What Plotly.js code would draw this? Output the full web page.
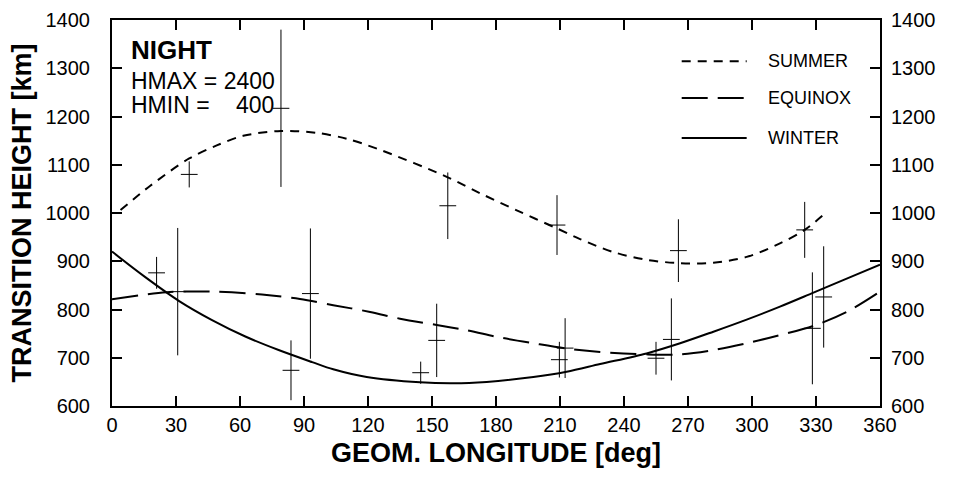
<!DOCTYPE html>
<html>
<head>
<meta charset="utf-8">
<script src="https://cdn.plot.ly/plotly-3.0.1.min.js"></script>
<style>
  html, body { margin: 0; padding: 0; background: #ffffff; }
  #chart { width: 953px; height: 477px; }
</style>
</head>
<body>
<div id="chart"></div>
<script>
// Observed data points (geomagnetic longitude, transition height, error)
const pointLon = [20.9, 30.8, 36.2, 79.2, 83.9, 93.0, 144.7, 152.2, 157.4, 208.6, 209.7, 212.4, 255.0, 262.2, 265.5, 324.7, 328.3, 333.6];
const pointH   = [876, 837, 1080, 1217, 674, 833, 669, 736, 1015, 975, 696, 720, 699, 738, 922, 965, 761, 826];
const pointErr = [33, 132, 27, 163, 62, 135, 23, 76, 69, 62, 37, 62, 34, 85, 65, 58, 116, 105];

// Fitted curves
const summerLon = [4, 17.8, 36.2, 49.1, 61.5, 79.2, 96, 110, 125.6, 157.4, 172.5, 190, 208.6, 219.4, 235, 250.6, 266.3, 281.9, 297.5, 313.1, 324.7, 335];
const summerH   = [1006, 1056, 1113, 1140, 1160, 1170, 1166, 1154, 1131, 1074, 1041, 1005, 968, 946, 919, 903, 896, 897, 909, 937, 965, 1002];

const equinoxLon = [0, 25.6, 47, 70.3, 88.1, 103.7, 121, 135, 152.2, 166.3, 181.9, 197.5, 213.1, 228.8, 250.6, 266.3, 281.9, 297.5, 313.1, 328.8, 344.4, 360];
const equinoxH   = [821, 836, 837, 831, 822, 809, 795, 781, 768, 757, 742, 730, 719, 712, 707, 707, 716, 730, 747, 766, 795, 837];

const winterLon = [0, 15.6, 31.3, 46.9, 62.5, 78.1, 93.8, 103.7, 119.4, 144.4, 160, 175.6, 197.5, 213.1, 228.8, 250.6, 266.3, 281.9, 297.5, 313.1, 328.8, 344.4, 360];
const winterH   = [920, 867, 818, 778, 744, 716, 691, 676, 660, 649, 647, 650, 660, 671, 687, 709, 730, 754, 779, 806, 835, 864, 893];

const xTicks = [0, 30, 60, 90, 120, 150, 180, 210, 240, 270, 300, 330, 360];
const yTicks = [600, 700, 800, 900, 1000, 1100, 1200, 1300, 1400];
const legendNames = ["SUMMER", "EQUINOX", "WINTER"];

const FONT = "Liberation Sans, Arial, sans-serif";
const DASH_SUMMER = "9px,7px";
const DASH_EQUINOX = "26px,10px";

const traces = [
  { x: summerLon, y: summerH, mode: "lines", name: legendNames[0],
    line: { color: "#000", width: 2, dash: DASH_SUMMER, shape: "spline", smoothing: 0.9 }, hoverinfo: "skip" },
  { x: equinoxLon, y: equinoxH, mode: "lines", name: legendNames[1],
    line: { color: "#000", width: 2, dash: DASH_EQUINOX, shape: "spline", smoothing: 0.9 }, hoverinfo: "skip" },
  { x: winterLon, y: winterH, mode: "lines", name: legendNames[2],
    line: { color: "#000", width: 2, shape: "spline", smoothing: 0.9 }, hoverinfo: "skip" },
  { x: pointLon, y: pointH, mode: "markers", name: "data",
    marker: { symbol: "line-ew", size: 12, color: "#000", line: { color: "#000", width: 1 } },
    error_y: { type: "data", array: pointErr, visible: true, color: "#000", thickness: 1, width: 0 } },
  { x: [null], y: [null], yaxis: "y2", mode: "markers", showlegend: false, hoverinfo: "skip" }
];

const legendY = [0.893, 0.798, 0.694];
const legendDash = [DASH_SUMMER, DASH_EQUINOX, "solid"];
const shapes = legendNames.map((n, i) => ({
  type: "line", xref: "paper", yref: "paper",
  x0: 0.7418, x1: 0.8264, y0: legendY[i], y1: legendY[i],
  line: { color: "#000", width: 2, dash: legendDash[i] }
}));

const annotations = legendNames.map((n, i) => ({
  text: n, xref: "paper", yref: "paper", x: 0.852, y: legendY[i],
  xanchor: "left", yanchor: "middle", showarrow: false,
  font: { family: FONT, size: 18, color: "#000" }
}));
annotations.push(
  { text: "NIGHT", xref: "paper", yref: "paper", x: 0.022, y: 0.923, xanchor: "left", yanchor: "middle",
    showarrow: false, font: { family: FONT, size: 26, color: "#000", weight: "bold" } },
  { text: "HMAX = 2400", xref: "paper", yref: "paper", x: 0.022, y: 0.841, xanchor: "left", yanchor: "middle",
    showarrow: false, font: { family: FONT, size: 23, color: "#000" } },
  { text: "HMIN =", xref: "paper", yref: "paper", x: 0.022, y: 0.781, xanchor: "left", yanchor: "middle",
    showarrow: false, font: { family: FONT, size: 23, color: "#000" } },
  { text: "400", xref: "paper", yref: "paper", x: 0.2135, y: 0.781, xanchor: "right", yanchor: "middle",
    showarrow: false, font: { family: FONT, size: 23, color: "#000" } }
);

const layout = {
  width: 953, height: 477,
  margin: { l: 112, r: 73, t: 20, b: 71 },
  paper_bgcolor: "#fff", plot_bgcolor: "#fff",
  showlegend: false,
  font: { family: FONT, color: "#000" },
  xaxis: {
    range: [0, 360], tickvals: xTicks, ticktext: xTicks.map(String),
    ticks: "inside", ticklen: 10, tickwidth: 2, tickcolor: "#000",
    showline: true, linewidth: 2, linecolor: "#000", mirror: "ticks",
    showgrid: false, zeroline: false,
    tickfont: { family: FONT, size: 20, color: "#000" },
    ticklabelstandoff: 0,
    title: { text: "GEOM. LONGITUDE [deg]", standoff: 8,
             font: { family: FONT, size: 27, color: "#000", weight: "bold" } }
  },
  yaxis: {
    range: [600, 1400], tickvals: yTicks, ticktext: yTicks.map(String),
    ticks: "inside", ticklen: 10, tickwidth: 2, tickcolor: "#000",
    showline: true, linewidth: 2, linecolor: "#000", mirror: "ticks",
    showgrid: false, zeroline: false,
    tickfont: { family: FONT, size: 20, color: "#000" },
    ticklabelstandoff: 16,
    title: { text: "TRANSITION HEIGHT [km]", standoff: 6,
             font: { family: FONT, size: 27, color: "#000", weight: "bold" } }
  },
  yaxis2: {
    overlaying: "y", side: "right",
    range: [600, 1400], tickvals: yTicks, ticktext: yTicks.map(String),
    ticks: "", showline: false, showgrid: false, zeroline: false,
    tickfont: { family: FONT, size: 20, color: "#000" },
    ticklabelstandoff: 10
  },
  shapes: shapes,
  annotations: annotations
};

Plotly.newPlot("chart", traces, layout, { displayModeBar: false, staticPlot: true });
</script>
</body>
</html>
